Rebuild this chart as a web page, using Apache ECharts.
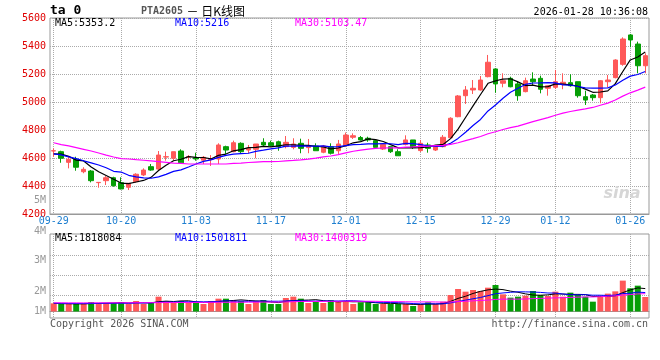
<!DOCTYPE html>
<html><head><meta charset="utf-8">
<script src="https://cdn.jsdelivr.net/npm/echarts@6/dist/echarts.min.js"></script>
<style>html,body{margin:0;padding:0;background:#fff}#c{width:660px;height:360px}</style>
</head><body><div id="c"></div>
<script>
// ---- data ----
const dates = ['09-29','09-30','10-09','10-10','10-13','10-14','10-15','10-16','10-17','10-20',
'10-21','10-22','10-23','10-24','10-27','10-28','10-29','10-30','10-31','11-03',
'11-04','11-05','11-06','11-07','11-10','11-11','11-12','11-13','11-14','11-17',
'11-18','11-19','11-20','11-21','11-24','11-25','11-26','11-27','11-28','12-01',
'12-02','12-03','12-04','12-05','12-08','12-09','12-10','12-11','12-12','12-15',
'12-16','12-17','12-18','12-19','12-22','12-23','12-24','12-25','12-26','12-29',
'12-30','12-31','01-05','01-06','01-07','01-08','01-09','01-12','01-13','01-14',
'01-15','01-16','01-19','01-20','01-21','01-22','01-23','01-26','01-27','01-28'];
const tickDates = ['09-29','10-20','11-03','11-17','12-01','12-15','12-29','01-12','01-26'];

const opens = [4650,4645,4569,4591,4502,4507,4424,4438,4459,4424,
4391,4431,4479,4538,4521,4607,4598,4650,4607,4602,
4584,4591,4593,4681,4645,4705,4657,4662,4712,4709,
4716,4681,4676,4705,4674,4686,4641,4681,4652,4688,
4748,4746,4741,4724,4664,4681,4645,4697,4729,4653,
4693,4657,4681,4745,4895,5045,5086,5086,5181,5236,
5134,5169,5129,5074,5164,5169,5098,5105,5129,5138,
5145,5038,5050,5031,5145,5174,5269,5479,5414,5259];
const closes = [4652,4598,4591,4534,4519,4438,4426,4459,4402,4379,
4419,4484,4514,4514,4621,4609,4645,4566,4609,4593,
4605,4593,4693,4657,4709,4645,4669,4700,4693,4688,
4681,4712,4700,4669,4686,4652,4686,4634,4700,4764,
4759,4729,4729,4676,4697,4645,4616,4729,4676,4705,
4669,4686,4748,4884,5043,5086,5098,5157,5284,5129,
5152,5109,5045,5152,5145,5091,5116,5145,5141,5116,
5045,5014,5031,5152,5157,5300,5450,5443,5259,5331];
const lows = [4609,4566,4526,4509,4491,4426,4388,4407,4395,4376,
4371,4424,4471,4509,4514,4581,4581,4562,4579,4581,
4557,4543,4557,4629,4641,4634,4634,4598,4686,4681,
4652,4669,4662,4634,4634,4652,4634,4625,4629,4681,
4736,4724,4716,4676,4657,4636,4616,4690,4664,4643,
4638,4650,4676,4741,4891,4986,5057,5081,5176,5066,
5105,5105,5009,5069,5121,5062,5045,5093,5091,5109,
5031,4979,5009,4991,5105,5169,5259,5391,5205,5205];
const highs = [4669,4652,4609,4609,4534,4514,4428,4471,4466,4462,
4419,4491,4526,4557,4650,4645,4645,4662,4621,4638,
4614,4621,4705,4688,4724,4712,4693,4700,4741,4724,
4724,4757,4741,4738,4736,4705,4693,4705,4729,4782,
4776,4757,4752,4733,4698,4681,4662,4762,4729,4729,
4709,4693,4764,4891,5050,5114,5157,5186,5336,5241,
5205,5181,5145,5174,5212,5188,5121,5229,5205,5198,
5145,5081,5057,5157,5193,5305,5462,5486,5431,5348];
const volumes = [648000,595000,595000,595000,595000,754000,675000,675000,675000,754000,
595000,833000,595000,675000,1177000,833000,675000,833000,728000,754000,
595000,833000,1018000,1018000,913000,833000,595000,833000,913000,595000,
595000,1071000,1177000,1018000,675000,754000,675000,913000,833000,833000,
595000,728000,728000,595000,595000,595000,595000,595000,437000,595000,
728000,595000,780000,1310000,1786000,1574000,1706000,1627000,1891000,2103000,
1362000,1098000,1177000,1257000,1627000,1310000,1230000,1574000,1177000,1495000,
1310000,1177000,780000,1250000,1420000,1600000,2450000,1840000,2050000,1150000];

// moving-average values before enough history is on screen
const ma5Head = [4630,4628,4612,4585];
const ma10Head = [4630,4622,4608,4596,4580,4565,4550,4530,4505];
const ma30Head = [4709,4696,4686,4674,4662,4650,4636,4621,4607,4596,4593,4588,4584,4579,4574,
4569,4564,4561,4557,4557,4557,4557,4557,4557,4561,4564,4568,4571,4574];
const volMa5Head = [640000,625000,615000,605000];
const volMa10Head = [660000,650000,640000,635000,630000,635000,640000,650000,655000];
const volMa30Head = [690000,690000,685000,685000,685000,690000,690000,690000,690000,695000,
695000,700000,700000,700000,705000,710000,710000,715000,715000,720000,
720000,725000,730000,730000,735000,735000,740000,740000,745000];

const priceLegend = ['MA5:5353.2','MA10:5216','MA30:5103.47'];
const volLegend = ['MA5:1818084','MA10:1501811','MA30:1400319'];
const volLabels = ['5M','4M','3M','2M','1M'];
const title = 'PTA2605';
const stamp = '2026-01-28 10:36:08';

function ma(arr, n, head){
  return arr.map((v,i)=>{
    if(i < n-1) return head[i];
    let s=0; for(let k=i-n+1;k<=i;k++) s+=arr[k];
    return +(s/n).toFixed(2);
  });
}

const RED='#ff5858', GREEN='#069e06';
const MONO='DejaVu Sans Mono';
const isTick = (idx, val) => tickDates.indexOf(val) >= 0 || tickDates.indexOf(dates[idx]) >= 0;
const gridLine = {show:true, interval:isTick, alignWithLabel:true, lineStyle:{color:'#aaa', type:[1,1], width:1}};

const chart = echarts.init(document.getElementById('c'), null, {renderer:'canvas'});
const txt = (t,x,y,color,opts) => Object.assign({type:'text', x:x, y:y, silent:true, z:100,
  style:Object.assign({text:t, fill:color, font:'10px "'+MONO+'"', textAlign:'left', textVerticalAlign:'middle', align:'left', verticalAlign:'middle'}, opts||{})});

chart.setOption({
  animation:false,
  backgroundColor:'#fff',
  grid:[
    {left:50, right:11, top:18, height:196, show:true, borderColor:'#999', borderWidth:1, backgroundColor:'transparent'},
    {left:50, right:11, top:234, height:84, show:true, borderColor:'#999', borderWidth:1, backgroundColor:'transparent'}
  ],
  xAxis:[
    {type:'category', gridIndex:0, data:dates, boundaryGap:true,
     axisLine:{show:true, lineStyle:{color:'#999'}}, axisTick:{show:false},
     axisLabel:{interval:isTick, color:'#1e7fd0', fontFamily:MONO, fontSize:10, margin:2},
     splitLine:gridLine},
    {type:'category', gridIndex:1, data:dates, boundaryGap:true,
     axisLine:{show:true, lineStyle:{color:'#999'}}, axisTick:{show:false},
     axisLabel:{show:false}, splitLine:gridLine}
  ],
  yAxis:[
    {type:'value', gridIndex:0, min:4200, max:5600, interval:200,
     axisLine:{show:false}, axisTick:{show:false},
     axisLabel:{color:'#e00000', fontFamily:MONO, fontSize:10, margin:4, formatter:(v)=>String(v)},
     splitLine:{show:true, lineStyle:{color:'#aaa', type:[1,1]}}},
    {type:'value', gridIndex:1, min:-516000, max:6151000,
     axisLine:{show:false}, axisTick:{show:false, customValues:[1310000,2897000,4484000]},
     axisLabel:{show:false},
     splitLine:{show:true, lineStyle:{color:'#aaa', type:[1,1]}}}
  ],
  series:[
    {type:'candlestick', xAxisIndex:0, yAxisIndex:0, barWidth:5,
     data:dates.map((d,i)=>[opens[i],closes[i],lows[i],highs[i]]),
     itemStyle:{color:RED, color0:GREEN, borderColor:RED, borderColor0:GREEN, borderWidth:1}},
    {type:'line', xAxisIndex:0, yAxisIndex:0, data:ma(closes,5,ma5Head), symbol:'none', lineStyle:{color:'#000', width:1.2}, z:5},
    {type:'line', xAxisIndex:0, yAxisIndex:0, data:ma(closes,10,ma10Head), symbol:'none', lineStyle:{color:'#0000ff', width:1.2}, z:5},
    {type:'line', xAxisIndex:0, yAxisIndex:0, data:ma(closes,30,ma30Head), symbol:'none', lineStyle:{color:'#ff00ff', width:1.2}, z:5},
    {type:'bar', xAxisIndex:1, yAxisIndex:1, barWidth:6,
     data:volumes.map((v,i)=>({value:v, itemStyle:{color: closes[i]>=opens[i]?RED:GREEN}}))},
    {type:'line', xAxisIndex:1, yAxisIndex:1, data:ma(volumes,5,volMa5Head), symbol:'none', lineStyle:{color:'#000', width:1}, z:5},
    {type:'line', xAxisIndex:1, yAxisIndex:1, data:ma(volumes,10,volMa10Head), symbol:'none', lineStyle:{color:'#0000ff', width:1}, z:5},
    {type:'line', xAxisIndex:1, yAxisIndex:1, data:ma(volumes,30,volMa30Head), symbol:'none', lineStyle:{color:'#ff00ff', width:1}, z:5}
  ],
  graphic:[
    txt('ta 0', 50, 11, '#000', {font:'bold 13px "'+MONO+'"'}),
    {type:'text', x:141, y:11, silent:true, style:{rich:{a:{fontFamily:MONO, fontSize:10, fontWeight:'bold', fill:'#555', color:'#555'}, b:{fontFamily:'Noto Sans CJK SC', fontSize:12, fill:'#000', color:'#000'}},
      text:'{a|'+title+'} {b|－ 日K线图}', textAlign:'left', textVerticalAlign:'middle', align:'left', verticalAlign:'middle'}},
    txt(stamp, 648, 12, '#000', {textAlign:'right', align:'right'}),
    txt(priceLegend[0], 55, 23.5, '#000'),
    txt(priceLegend[1], 175, 23.5, '#0000ff'),
    txt(priceLegend[2], 295, 23.5, '#ff00ff'),
    txt(volLegend[0], 55, 238.5, '#000'),
    txt(volLegend[1], 175, 238.5, '#0000ff'),
    txt(volLegend[2], 295, 238.5, '#ff00ff'),
    txt(volLabels[0], 46, 200, '#999', {textAlign:'right', align:'right'}),
    txt(volLabels[1], 46, 231, '#999', {textAlign:'right', align:'right'}),
    txt(volLabels[2], 46, 260, '#999', {textAlign:'right', align:'right'}),
    txt(volLabels[3], 46, 291, '#999', {textAlign:'right', align:'right'}),
    txt(volLabels[4], 46, 311, '#999', {textAlign:'right', align:'right'}),
    txt('Copyright 2026 SINA.COM', 50, 324, '#555'),
    txt('http://finance.sina.com.cn', 648, 324, '#555', {textAlign:'right', align:'right'}),
    txt('sina', 622, 194, '#d6d6d6', {font:'italic bold 16px "DejaVu Sans"', textAlign:'center', align:'center'})
  ]
});
</script></body></html>
